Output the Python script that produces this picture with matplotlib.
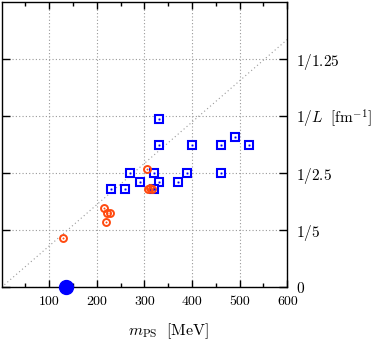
import numpy as np
import matplotlib
matplotlib.use('Agg')
from matplotlib import pyplot as plt

plt.rcParams['font.family'] = 'serif'
plt.rcParams['font.serif'] = ['cmr10', 'DejaVu Serif']
plt.rcParams['mathtext.fontset'] = 'cm'
plt.rcParams['axes.unicode_minus'] = False

# lattice ensembles, m_PS [MeV] vs 1/L [fm^-1]
sq_mps = [330, 330, 400, 460, 490, 520, 270, 320, 390, 460, 290, 330, 370, 230, 260, 320]
sq_invl = [0.589, 0.5, 0.5, 0.5, 0.528, 0.5, 0.4, 0.4, 0.4, 0.4,
           0.37, 0.37, 0.37, 0.345, 0.345, 0.345]

ci_mps = [305, 308, 312, 316, 216, 221, 228, 219, 129]
ci_invl = [0.416, 0.345, 0.347, 0.345, 0.279, 0.259, 0.259, 0.230, 0.174]

phys_mps = [135]
phys_invl = [0.0]

mL_line = 3.5
hbarc = 197.327

yticks = [0, 0.2, 0.4, 0.6, 0.8]
ylabels = [r'$0$', r'$1/5$', r'$1/2.5$', r'$1/L\ \ [{\rm fm}^{-1}]$', r'$1/1.25$']
xticks = [100, 200, 300, 400, 500, 600]

fig = plt.figure(figsize=(3.78, 3.41), dpi=100)
ax = fig.add_axes([1.5 / 378, 1 - 287.3 / 341, 285.8 / 378, 285.3 / 341])

xs = np.linspace(0, 600, 50)
ax.plot(xs, xs / (mL_line * hbarc), ls=(0, (1, 2.5)), color='#999999', lw=0.8)

ax.plot(sq_mps, sq_invl, 's', ms=5.6, mfc='white', mec='#0000ff', mew=1.5, zorder=3)
ax.plot(sq_mps, sq_invl, 's', ms=1.0, mfc='#0000ff', mec='#0000ff', mew=0.3, zorder=4)
ax.plot(ci_mps, ci_invl, 'o', ms=5.0, mfc='none', mec='#ff4a10', mew=1.4, zorder=3)
ax.plot(ci_mps, ci_invl, 'o', ms=1.0, mfc='#ff4a10', mec='#ff4a10', mew=0.3, zorder=4)
ax.plot(phys_mps, phys_invl, 'o', ms=10, color='#0000ff', clip_on=False, zorder=5)

ax.set_xlim(0, 600)
ax.set_ylim(0, 1.0)
ax.set_xticks(xticks)
ax.set_xticklabels([str(v) for v in xticks])
ax.set_xticks(np.arange(50, 600, 100), minor=True)
ax.set_yticks(yticks)
ax.set_yticklabels(ylabels)

ax.grid(True, which='major', ls=(0, (1, 2)), color='#999999', lw=0.8)
ax.tick_params(which='both', direction='in', top=True, bottom=True,
               left=True, right=True, labelleft=False, labelright=True,
               labelsize=10, width=1.0)
ax.tick_params(axis='x', which='major', length=5, pad=6)
ax.tick_params(axis='x', which='minor', length=3)
ax.tick_params(axis='y', which='major', length=6, pad=6, labelsize=11)
for s in ax.spines.values():
    s.set_linewidth(1.0)

ax.set_xlabel(r'$m_{\rm PS}\ \ [{\rm MeV}]$', fontsize=11.5, va='center')
ax.xaxis.set_label_coords(0.583, -0.155)

fig.savefig('out.png', dpi=100)
